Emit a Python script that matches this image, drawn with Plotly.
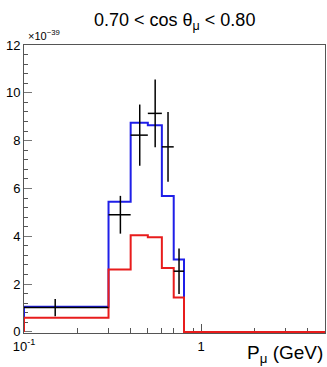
import math
import plotly.graph_objects as go

# ---- data ----
bin_edges = [0.0, 0.3, 0.4, 0.5, 0.6, 0.7, 0.8, 5.0]
blue_vals = [1.05, 5.44, 8.75, 8.64, 5.68, 3.03, 0.0]
red_vals = [0.59, 2.61, 4.04, 3.96, 2.67, 1.44, 0.0]
data_vals = [1.02, 4.90, 8.23, 9.14, 7.74, 2.54]
data_errs = [0.36, 0.79, 1.28, 1.42, 1.46, 0.95]

x_min, x_max = 0.1, 5.0
y_min, y_max = -0.045, 12
x_major = [0.1, 1]
x_major_text = ["10<sup>-1</sup>", "1"]
x_minor = [0.2, 0.3, 0.4, 0.5, 0.6, 0.7, 0.8, 0.9, 2, 3, 4, 5]

FONT = "Liberation Sans, Arial, Helvetica, sans-serif"


def step_xy(edges, vals):
    xs, ys = [], []
    lo = max(edges[0], x_min)
    xs.append(lo); ys.append(0)
    for i, v in enumerate(vals):
        a = max(edges[i], x_min)
        b = edges[i + 1]
        xs += [a, b]
        ys += [v, v]
    xs.append(edges[-1]); ys.append(0)
    return xs, ys


fig = go.Figure()

bx, by = step_xy(bin_edges, blue_vals)
fig.add_trace(go.Scatter(x=bx, y=by, mode="lines",
                         line=dict(color="#1f1fe8", width=2), showlegend=False))
rx, ry = step_xy(bin_edges, red_vals)
fig.add_trace(go.Scatter(x=rx, y=ry, mode="lines",
                         line=dict(color="#e81c1c", width=2), showlegend=False))

centers = [(bin_edges[i] + bin_edges[i + 1]) / 2 for i in range(len(data_vals))]
half_w = [(bin_edges[i + 1] - bin_edges[i]) / 2 for i in range(len(data_vals))]
ex, ey = [], []
for c, hw, v, e in zip(centers, half_w, data_vals, data_errs):
    ex += [max(c - hw, x_min), c + hw, None, c, c, None]
    ey += [v, v, None, v - e, v + e, None]
fig.add_trace(go.Scatter(x=ex, y=ey, mode="lines",
                         line=dict(color="black", width=1.5), showlegend=False))

fig.update_layout(
    width=327, height=367,
    margin=dict(l=24, r=2, t=45, b=34),
    paper_bgcolor="white", plot_bgcolor="white",
    font=dict(family=FONT, color="black"),
    xaxis=dict(type="log", range=[math.log10(x_min), math.log10(x_max)],
               tickmode="array", tickvals=x_major, ticktext=x_major_text,
               ticks="inside", ticklen=9, tickcolor="#555", tickwidth=1,
               minor=dict(tickmode="array", tickvals=x_minor, ticks="inside",
                          ticklen=5, tickcolor="#555"),
               showline=True, linecolor="#555", linewidth=1, mirror=True,
               showgrid=False, zeroline=False, layer="below traces",
               ticklabelstandoff=1,
               tickfont=dict(size=13, family=FONT)),
    yaxis=dict(range=[y_min, y_max], tickmode="linear", tick0=0, dtick=2,
               ticks="inside", ticklen=8, tickcolor="#777", tickwidth=1,
               minor=dict(tick0=0, dtick=0.4, ticks="inside", ticklen=4, tickcolor="#555"),
               showline=True, linecolor="#555", linewidth=1, mirror=True,
               showgrid=False, zeroline=False, layer="below traces",
               tickfont=dict(size=13, family=FONT)),
)

fig.add_annotation(text="0.70 &lt; cos θ<sub>μ</sub> &lt; 0.80", xref="paper", yref="paper",
                   x=0.5, y=1.0, yshift=24, xanchor="center", yanchor="middle",
                   showarrow=False, font=dict(size=18, family=FONT))
fig.add_annotation(text="×10<sup>−39</sup>", xref="paper", yref="paper",
                   x=0, y=1.0, xshift=2, yshift=1, xanchor="left", yanchor="bottom",
                   showarrow=False, font=dict(size=11, family=FONT))
fig.add_annotation(text="P<sub>μ</sub> (GeV)", xref="paper", yref="paper",
                   x=1.0, y=0, yshift=-21, xanchor="right", yanchor="middle",
                   showarrow=False, font=dict(size=19, family=FONT))

fig.write_html("out.html")
